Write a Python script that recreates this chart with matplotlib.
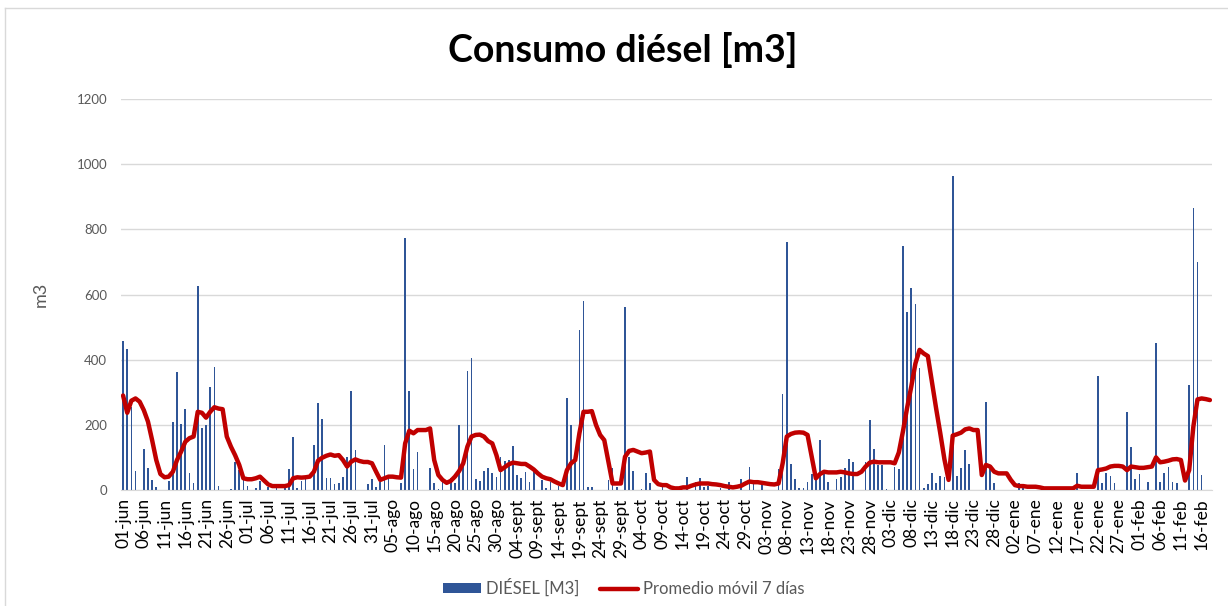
import numpy as np
import pandas as pd
import matplotlib
matplotlib.use('Agg')
import matplotlib.pyplot as plt
from matplotlib.lines import Line2D

plt.rcParams['font.family'] = ['Lato', 'DejaVu Sans']

# consumo diario (m3), 01-jun .. 18-feb
diesel = [
    457, 433, 255, 59, 0, 125, 66, 31, 9, 0,
    0, 29, 209, 361, 203, 250, 51, 20, 626, 190,
    198, 315, 377, 12, 0, 0, 2, 87, 61, 36,
    13, 0, 5, 28, 0, 10, 0, 5, 0, 5,
    63, 164, 5, 28, 33, 0, 138, 268, 218, 38,
    38, 19, 22, 41, 100, 303, 122, 0, 0, 19,
    33, 10, 26, 138, 33, 0, 0, 22, 772, 305,
    63, 116, 0, 0, 69, 22, 2, 31, 0, 38,
    20, 200, 92, 364, 405, 35, 27, 59, 69, 51,
    41, 102, 90, 92, 135, 46, 38, 56, 26, 58,
    0, 31, 5, 26, 0, 12, 0, 281, 200, 85,
    491, 581, 10, 10, 0, 0, 0, 31, 66, 10,
    0, 563, 102, 57, 0, 2, 51, 22, 0, 0,
    15, 0, 0, 0, 0, 0, 39, 0, 24, 38,
    10, 12, 0, 0, 5, 0, 26, 0, 0, 33,
    0, 72, 31, 0, 17, 0, 0, 0, 63, 295,
    762, 79, 33, 5, 7, 26, 49, 31, 153, 61,
    26, 0, 33, 41, 69, 94, 85, 0, 0, 87,
    215, 125, 77, 77, 2, 0, 70, 63, 750, 547,
    619, 570, 373, 5, 18, 51, 22, 43, 41, 0,
    965, 44, 66, 123, 79, 0, 0, 0, 271, 63,
    20, 0, 0, 0, 0, 0, 20, 12, 0, 0,
    0, 0, 0, 0, 0, 0, 0, 0, 0, 0,
    51, 0, 0, 0, 0, 350, 22, 53, 44, 22,
    0, 0, 240, 133, 33, 48, 0, 26, 0, 452,
    26, 51, 70, 26, 22, 0, 0, 322, 865, 700,
    46, 0, 0,
]

# promedio movil 7 dias
promedio = [
    290, 237, 274, 281, 271, 245, 210, 153, 92, 49,
    39, 41, 56, 92, 118, 148, 159, 164, 240, 237,
    222, 240, 254, 250, 248, 164, 133, 107, 77, 36,
    33, 33, 36, 41, 29, 17, 12, 12, 12, 12,
    15, 36, 39, 38, 39, 41, 56, 90, 99, 105,
    109, 105, 107, 92, 72, 87, 94, 89, 86, 86,
    82, 56, 31, 36, 41, 41, 39, 38, 143, 182,
    174, 184, 184, 184, 189, 92, 46, 31, 22, 28,
    41, 58, 82, 133, 164, 169, 170, 164, 150, 143,
    107, 61, 70, 79, 84, 82, 80, 80, 72, 63,
    51, 41, 36, 33, 26, 20, 15, 61, 82, 92,
    174, 240, 240, 242, 200, 169, 153, 87, 20, 20,
    20, 102, 120, 123, 118, 113, 115, 118, 31, 18,
    15, 15, 8, 5, 5, 8, 8, 13, 17, 20,
    20, 20, 18, 17, 15, 12, 10, 8, 10, 13,
    20, 26, 24, 24, 22, 20, 18, 17, 20, 82,
    164, 172, 176, 177, 176, 169, 102, 36, 49, 56,
    54, 54, 54, 56, 54, 51, 49, 49, 56, 72,
    84, 87, 85, 85, 85, 85, 82, 115, 180, 252,
    317, 388, 430, 419, 411, 330, 250, 174, 94, 31,
    167, 171, 176, 186, 189, 184, 184, 46, 77, 72,
    56, 51, 51, 51, 31, 15, 12, 12, 10, 10,
    10, 8, 5, 5, 5, 5, 5, 5, 5, 5,
    13, 10, 10, 10, 10, 61, 63, 66, 72, 74,
    74, 72, 61, 72, 70, 68, 68, 70, 72, 100,
    85, 87, 90, 94, 95, 92, 29, 61, 194, 278,
    281, 279, 276,
]

meses = {6: 'jun', 7: 'jul', 8: 'ago', 9: 'sept', 10: 'oct', 11: 'nov',
         12: 'dic', 1: 'ene', 2: 'feb'}
fechas = pd.date_range('2021-06-01', periods=len(diesel), freq='D')
etiquetas = ['%02d-%s' % (d.day, meses[d.month]) for d in fechas]

x = np.arange(len(diesel))

fig = plt.figure(figsize=(12.28, 6.06), dpi=100)
ax = fig.add_axes([121 / 1228, 1 - 490 / 606, (1212 - 121) / 1228, (490 - 99) / 606])

barras = ax.bar(x, diesel, width=0.4, color='#2F5597', zorder=2)
linea, = ax.plot(x, promedio, color='#C00000', lw=3.2, zorder=3, solid_joinstyle='round',
                 solid_capstyle='round')

ax.set_xlim(-0.5, len(diesel) - 0.5)
ax.set_ylim(0, 1200)
ax.set_yticks(range(0, 1201, 200))
ax.set_xticks(x[::5])
ax.set_xticklabels(etiquetas[::5], rotation=90, fontsize=12.5, color='#000000')
ax.tick_params(axis='x', length=0, pad=6)
ax.tick_params(axis='y', length=0, pad=10, labelsize=9.5, labelcolor='#595959')
ax.grid(axis='y', color='#D9D9D9', lw=1, zorder=0)
for s in ['top', 'right', 'left']:
    ax.spines[s].set_visible(False)
ax.spines['bottom'].set_color('#D9D9D9')
ax.set_ylabel('m3', fontsize=13, color='#595959', labelpad=20)

fig.text(0.507, 0.917, 'Consumo diésel [m3]', ha='center', va='center',
         fontsize=27, fontweight='bold')

fig.legend([barras, linea], ['DIÉSEL [M3]', 'Promedio móvil 7 días'],
           loc='center', bbox_to_anchor=(0.508, 0.03), ncol=2, frameon=False,
           fontsize=12, labelcolor='#595959', handlelength=2.3, columnspacing=1.2,
           handleheight=0.5, handletextpad=0.3)

# borde del grafico
fig.add_artist(Line2D([5 / 1228, 5 / 1228], [0, 1 - 8 / 606], color='#D9D9D9', lw=1))
fig.add_artist(Line2D([5 / 1228, 1], [1 - 8 / 606, 1 - 8 / 606], color='#D9D9D9', lw=1))

fig.savefig('out.png', dpi=100)
